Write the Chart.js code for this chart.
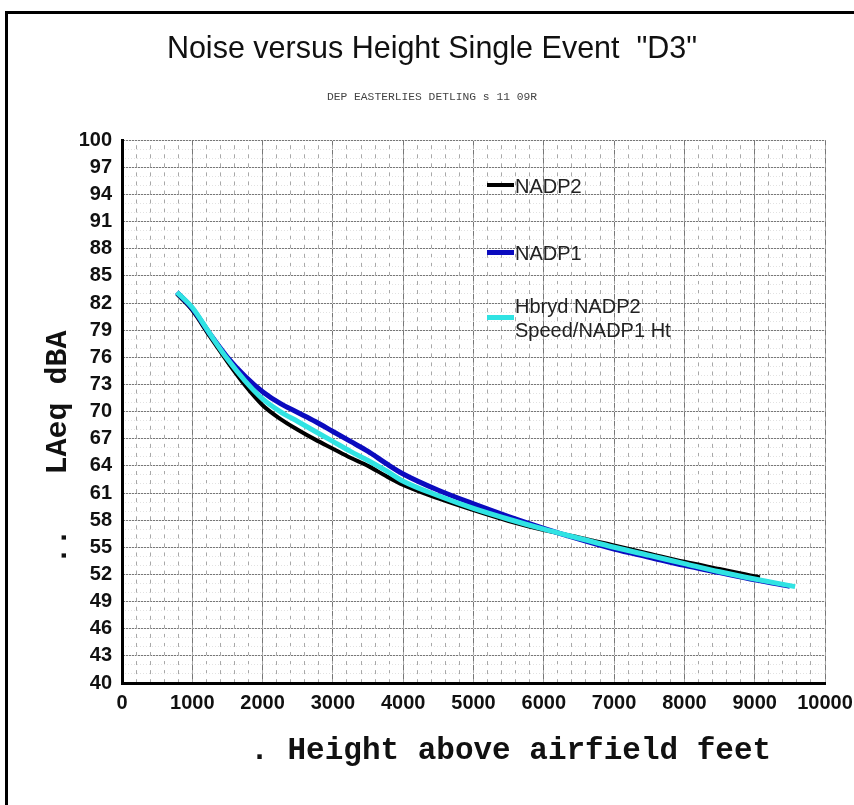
<!DOCTYPE html>
<html>
<head>
<meta charset="utf-8">
<script src="https://cdn.jsdelivr.net/npm/chart.js@4.4.1/dist/chart.umd.min.js"></script>
<style>
  html, body { margin: 0; padding: 0; background: #fff; overflow: hidden; }
  #wrap { position: relative; width: 854px; height: 805px; overflow: hidden; }
  #frame { position: absolute; left: 5px; top: 11px; width: 900px; height: 900px; border: 3px solid #000; }
  #chart { position: absolute; left: 0; top: 0; }
  .leg { position: absolute; font: 20px "Liberation Sans", Arial, sans-serif; color: #222; white-space: pre-line; line-height: 24px; }
  .leg .sw { position: absolute; left: -28px; width: 27px; }
</style>
</head>
<body>
<div id="wrap">
  <div id="frame"></div>
  <canvas id="chart" width="854" height="805"></canvas>
  <div id="legend"></div>
</div>
<script>
// series labels and colours
const seriesNames = ['NADP2', 'NADP1', 'Hbryd NADP2\nSpeed/NADP1 Ht'];
const seriesColors = ['#000000', '#0b0bbf', '#30e3e3'];
const seriesWidths = [4, 5, 5];

// NADP2 (black)
const nadp2Height = [780, 1000, 1250, 1500, 1750, 2000, 2250, 2500, 2750, 3000, 3250, 3500, 3750, 4000, 4500, 5000, 5500, 6000, 6500, 7000, 7500, 8000, 8500, 9000, 9075];
const nadp2Level = [83.0, 81.2, 78.3, 75.5, 72.9, 70.7, 69.2, 68.0, 66.9, 65.9, 64.9, 64.0, 62.9, 61.9, 60.4, 59.1, 57.9, 56.9, 56.1, 55.2, 54.3, 53.4, 52.6, 51.8, 51.7];

// NADP1 (blue)
const nadp1Height = [780, 1000, 1250, 1500, 1750, 2000, 2250, 2500, 2750, 3000, 3250, 3500, 3750, 4000, 4500, 5000, 5500, 6000, 6500, 7000, 7500, 8000, 8500, 9000, 9500];
const nadp1Level = [83.2, 81.4, 78.6, 76.0, 73.9, 72.2, 70.9, 69.9, 68.9, 67.8, 66.7, 65.6, 64.3, 63.1, 61.3, 59.8, 58.4, 57.1, 55.9, 54.8, 53.9, 53.0, 52.2, 51.4, 50.7];

// Hybrid (cyan)
const hybridHeight = [780, 1000, 1250, 1500, 1750, 2000, 2250, 2500, 2750, 3000, 3250, 3500, 3750, 4000, 4500, 5000, 5500, 6000, 6500, 7000, 7500, 8000, 8500, 9000, 9575];
const hybridLevel = [83.2, 81.5, 78.6, 75.8, 73.4, 71.4, 70.0, 68.9, 67.8, 66.7, 65.6, 64.6, 63.5, 62.3, 60.7, 59.3, 58.1, 57.0, 56.0, 55.0, 54.1, 53.2, 52.3, 51.5, 50.65];

// axis ranges / ticks
const xMin = 0, xMax = 10000, xStep = 1000, xMinorStep = 200;
const yMin = 40, yMax = 100, yStep = 3, yMinorStep = 1;

const toPoints = (xs, ys) => xs.map((x, i) => ({ x: x, y: ys[i] }));
const allSeries = [
  toPoints(nadp2Height, nadp2Level),
  toPoints(nadp1Height, nadp1Level),
  toPoints(hybridHeight, hybridLevel)
];

const tickFont = { family: 'Liberation Sans', size: 20, weight: 'bold' };

new Chart(document.getElementById('chart'), {
  type: 'line',
  data: {
    datasets: allSeries.map((pts, i) => ({
      label: seriesNames[i],
      data: pts,
      borderColor: seriesColors[i],
      backgroundColor: seriesColors[i],
      borderWidth: seriesWidths[i],
      pointRadius: 0,
      fill: false,
      cubicInterpolationMode: 'monotone',
      order: 3 - i,
      xAxisID: 'x',
      yAxisID: 'y'
    }))
  },
  options: {
    responsive: false,
    animation: false,
    layout: { padding: { left: 39, right: 29, top: 31, bottom: 15 } },
    plugins: {
      legend: { display: false },
      tooltip: { enabled: false },
      title: {
        display: true,
        text: 'Noise versus Height Single Event  "D3"',
        color: '#111',
        font: { family: 'Liberation Sans', size: 30.5, weight: 'normal' },
        padding: { top: 0, bottom: 0 }
      },
      subtitle: {
        display: true,
        text: 'DEP EASTERLIES DETLING s 11 09R',
        color: '#444',
        font: { family: 'Liberation Mono', size: 11.3 },
        padding: { top: 23, bottom: 36 }
      }
    },
    scales: {
      x: {
        type: 'linear',
        position: 'bottom',
        min: xMin, max: xMax,
        ticks: { stepSize: xStep, font: tickFont, color: '#111', padding: 8, maxRotation: 0, autoSkip: false,
                 callback: v => String(v) },
        grid: { color: '#777', lineWidth: 1, drawTicks: false },
        border: { color: '#000', width: 3 },
        title: {
          display: true,
          text: '    . Height above airfield feet',
          color: '#111',
          font: { family: 'Liberation Mono', size: 31, weight: 'bold' },
          padding: { top: 0, bottom: 20 }
        },
        afterFit: s => { s.height = 107; s.paddingRight = 0; }
      },
      y: {
        type: 'linear',
        position: 'left',
        min: yMin, max: yMax,
        ticks: { stepSize: yStep, font: tickFont, color: '#111', padding: 10 },
        grid: { color: '#777', lineWidth: 1, drawTicks: false },
        border: { color: '#000', width: 3 },
        title: {
          display: true,
          text: '..   LAeq dBA    ',
          color: '#111',
          font: { family: 'Liberation Mono', size: 30, weight: 'bold' },
          padding: { top: 1, bottom: 0 }
        },
        afterFit: s => { s.width = 83; }
      },
      xMinor: {
        type: 'linear',
        axis: 'x',
        position: 'bottom',
        z: -1,
        min: xMin, max: xMax,
        ticks: { stepSize: xMinorStep, display: false },
        grid: { color: '#a8a8a8', lineWidth: 1, drawTicks: false },
        border: { display: false, dash: [4, 5.05], dashOffset: 4 },
        afterFit: s => { s.height = 0; s.paddingRight = 0; }
      },
      yMinor: {
        type: 'linear',
        axis: 'y',
        position: 'left',
        z: -1,
        min: yMin, max: yMax,
        ticks: { stepSize: yMinorStep, display: false },
        grid: { color: '#e2e2e2', lineWidth: 1, drawTicks: false },
        border: { display: false, dash: [1, 2] },
        afterFit: s => { s.width = 0; }
      }
    }
  }
});

// legend placed inside the plot, upper right
const legendSpots = [[515, 174, 11], [515, 241, 11], [515, 294, 23]];
const legendBox = document.getElementById('legend');
seriesNames.forEach((name, i) => {
  const item = document.createElement('div');
  item.className = 'leg';
  item.style.left = legendSpots[i][0] + 'px';
  item.style.top = legendSpots[i][1] + 'px';
  item.textContent = name;
  const sw = document.createElement('div');
  sw.className = 'sw';
  sw.style.background = seriesColors[i];
  sw.style.height = seriesWidths[i] + 'px';
  sw.style.top = (legendSpots[i][2] - seriesWidths[i] / 2) + 'px';
  item.appendChild(sw);
  legendBox.appendChild(item);
});
</script>
</body>
</html>
